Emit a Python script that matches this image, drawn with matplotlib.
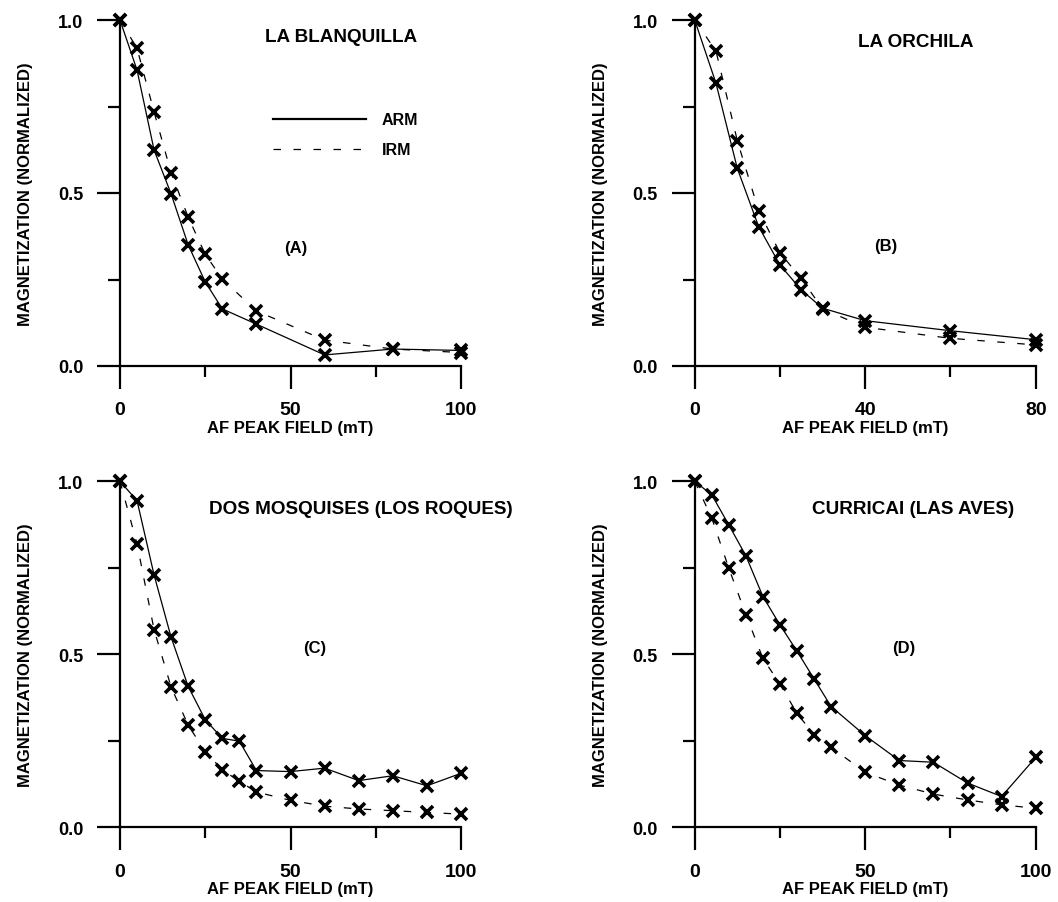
import matplotlib
matplotlib.use("Agg")
import matplotlib.pyplot as plt
from matplotlib.ticker import MultipleLocator

plt.rcParams['font.family'] = ['Liberation Sans', 'DejaVu Sans']
plt.rcParams['font.weight'] = 'bold'

# AF demagnetization data (normalized)
x_a = [0, 5, 10, 15, 20, 25, 30, 40, 60, 80, 100]
arm_a = [1.0, 0.855, 0.624, 0.497, 0.35, 0.243, 0.165, 0.121, 0.032, 0.049, 0.045]
irm_a = [1.0, 0.918, 0.734, 0.558, 0.43, 0.323, 0.251, 0.159, 0.075, 0.049, 0.039]

x_b = [0, 5, 10, 15, 20, 25, 30, 40, 60, 80]
arm_b = [1.0, 0.817, 0.571, 0.403, 0.292, 0.22, 0.167, 0.131, 0.102, 0.076]
irm_b = [1.0, 0.91, 0.651, 0.449, 0.327, 0.253, 0.165, 0.112, 0.08, 0.061]

x_c = [0, 5, 10, 15, 20, 25, 30, 35, 40, 50, 60, 70, 80, 90, 100]
arm_c = [1.0, 0.944, 0.729, 0.549, 0.407, 0.311, 0.257, 0.249, 0.164, 0.161,
         0.171, 0.135, 0.149, 0.12, 0.156]
irm_c = [1.0, 0.819, 0.571, 0.405, 0.295, 0.219, 0.166, 0.133, 0.102, 0.078,
         0.061, 0.053, 0.048, 0.043, 0.038]

x_d = [0, 5, 10, 15, 20, 25, 30, 35, 40, 50, 60, 70, 80, 90, 100]
arm_d = [1.0, 0.961, 0.874, 0.785, 0.667, 0.585, 0.509, 0.429, 0.349, 0.265,
         0.193, 0.188, 0.128, 0.089, 0.202]
irm_d = [1.0, 0.894, 0.749, 0.615, 0.488, 0.414, 0.329, 0.268, 0.231, 0.159,
         0.122, 0.096, 0.079, 0.065, 0.055]

panels = [
    ("LA BLANQUILLA", "(A)", x_a, arm_a, irm_a, 100, (64.8, 0.951), (51.5, 0.343)),
    ("LA ORCHILA", "(B)", x_b, arm_b, irm_b, 80, (51.9, 0.937), (44.8, 0.348)),
    ("DOS MOSQUISES (LOS ROQUES)", "(C)", x_c, arm_c, irm_c, 100, (70.6, 0.92), (57.2, 0.52)),
    ("CURRICAI (LAS AVES)", "(D)", x_d, arm_d, irm_d, 100, (64.1, 0.92), (61.4, 0.52)),
]

W, H = 1058, 903
fig = plt.figure(figsize=(W / 100, H / 100), dpi=100)

# axes boxes in pixels: (left, top, right, bottom)
boxes = [(120, 21, 461, 367), (694.7, 21, 1035.7, 367),
         (120, 482.3, 461, 828.3), (694.7, 482.3, 1035.7, 828.3)]

for (title, tag, xs, arm, irm, xmax, tpos, lpos), (l, t, r, b) in zip(panels, boxes):
    ax = fig.add_axes([l / W, 1 - b / H, (r - l) / W, (b - t) / H])
    ax.plot(xs, arm, '-', color='black', lw=0.9, marker='x', ms=9,
            mew=2.6, clip_on=False)
    ax.plot(xs, irm, color='black', lw=0.9, dashes=(6, 10), marker='x',
            ms=9, mew=2.6, clip_on=False)
    ax.set_xlim(0, xmax)
    ax.set_ylim(0, 1)
    ax.spines['top'].set_visible(False)
    ax.spines['right'].set_visible(False)
    ax.spines['left'].set_linewidth(1.6)
    ax.spines['bottom'].set_linewidth(1.6)
    ax.xaxis.set_major_locator(MultipleLocator(xmax / 2))
    ax.xaxis.set_minor_locator(MultipleLocator(xmax / 4))
    ax.yaxis.set_major_locator(MultipleLocator(0.5))
    ax.yaxis.set_minor_locator(MultipleLocator(0.25))
    ax.tick_params(axis='y', which='major', direction='out', length=16.5, width=1.6,
                   labelsize=13, pad=10)
    ax.tick_params(axis='y', which='minor', direction='out', length=9, width=1.6)
    ax.tick_params(axis='x', which='major', direction='out', length=16.5, width=1.6,
                   labelsize=14, pad=9)
    ax.tick_params(axis='x', which='minor', direction='out', length=8, width=1.6)
    ax.xaxis.set_major_formatter(plt.FuncFormatter(lambda v, p: "%d" % v))
    ax.yaxis.set_major_formatter(plt.FuncFormatter(lambda v, p: "%.1f" % v))
    ax.set_xlabel("AF PEAK FIELD (mT)", fontsize=12, fontweight='bold', labelpad=1)
    ax.set_ylabel("MAGNETIZATION (NORMALIZED)", fontsize=12, fontweight='bold',
                  labelpad=18)
    ax.text(tpos[0], tpos[1], title, fontsize=13.6, fontweight='bold',
            ha='center', va='center')
    ax.text(lpos[0], lpos[1], tag, fontsize=12, fontweight='bold',
            ha='center', va='center')
    if tag == "(A)":
        h1, = ax.plot([], [], '-', color='black', lw=1.6)
        h2, = ax.plot([], [], color='black', lw=0.9, dashes=(6, 10))
        ax.legend([h1, h2], ["ARM", "IRM"], loc='upper left',
                  bbox_to_anchor=(0.407, 0.775), frameon=False,
                  handlelength=5.8, handletextpad=1.0, labelspacing=0.95,
                  prop={'weight': 'bold', 'size': 11.5})

fig.savefig("out.png", dpi=100)
